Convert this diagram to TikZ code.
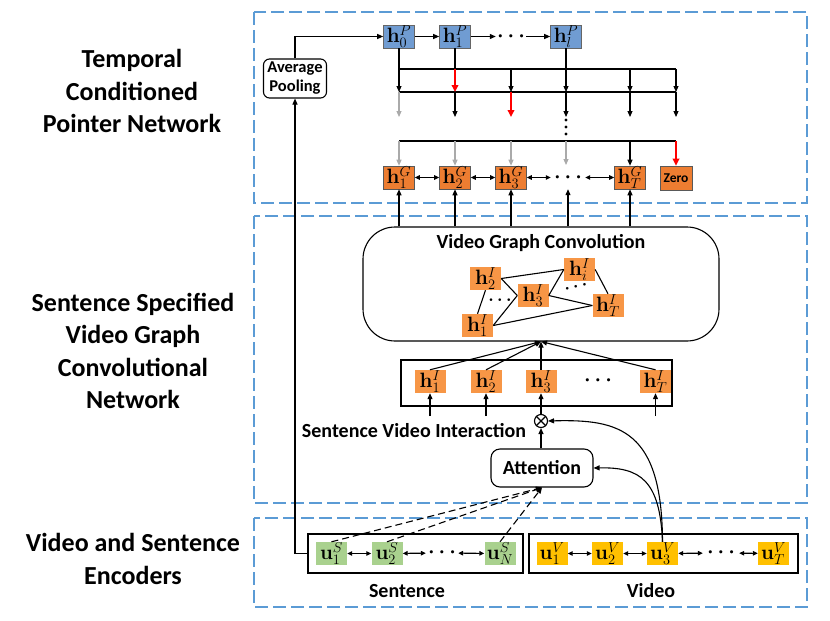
\documentclass[tikz,border=0pt]{standalone}
\usepackage[no-math]{fontspec}
\setmainfont{Carlito}
\usetikzlibrary{arrows.meta}
\definecolor{grpblue}{RGB}{91,155,213}
\definecolor{pblue}{RGB}{112,156,210}
\definecolor{gorange}{RGB}{237,125,49}
\definecolor{iorange}{RGB}{247,150,70}
\definecolor{sgreen}{RGB}{169,209,142}
\definecolor{vgold}{RGB}{255,192,0}
\definecolor{arrgray}{RGB}{170,170,170}
\begin{document}
\begin{tikzpicture}[x=1pt,y=-1pt,
  every node/.style={inner sep=0pt},
  grp/.style={draw=grpblue, line width=1.4pt, dash pattern=on 13pt off 5pt},
  mnode/.style={minimum width=31pt, minimum height=23pt, font=\fontsize{21}{23}\selectfont},
  pnode/.style={mnode, fill=pblue, draw=black!60, line width=0.6pt},
  gnode/.style={mnode, fill=gorange, draw=black!65, line width=0.6pt},
  inode/.style={mnode, fill=iorange},
  snode/.style={mnode, fill=sgreen},
  vnode/.style={mnode, fill=vgold},
  dotnode/.style={minimum height=23pt, font=\fontsize{20}{20}\selectfont\boldmath},
  gdots/.style={font=\fontsize{19}{19}\selectfont\boldmath},
  ln/.style={line width=1.1pt},
  arr/.style={ln, -{Triangle[length=6pt,width=5pt]}},
  darr/.style={ln, {Triangle[length=5pt,width=4.5pt]}-{Triangle[length=5pt,width=4.5pt]}},
  redarr/.style={line width=2pt, red, -{Triangle[length=7pt,width=6.5pt]}},
  grayarr/.style={arr, arrgray},
  dasharr/.style={arr, dash pattern=on 7pt off 4pt},
  lbl/.style={font=\fontsize{26}{32.5}\selectfont\bfseries, align=center},
  mid/.style={font=\fontsize{20}{22}\selectfont\bfseries, align=center},
  boxline/.style={draw, ln},
]
\useasboundingbox (0,0) rectangle (830,621);

% group frames
\draw[grp] (254,12) rectangle (807,203);
\draw[grp] (254,216) rectangle (807,503);
\draw[grp] (254,518) rectangle (807,607);

% left labels
\node[lbl] (t1) at (132,91) {Temporal\\Conditioned\\Pointer Network};
\node[lbl] (t2) at (133,351) {Sentence Specified\\Video Graph\\Convolutional\\Network};
\node[lbl] (t3) at (133,559) {Video and Sentence\\Encoders};

% ---------- pointer network ----------
\node[pnode] (p0) at (399,36.5) {$\mathbf{h}_0^P$};
\node[pnode] (p1) at (455,36.5) {$\mathbf{h}_1^P$};
\node[dotnode, minimum width=30pt] (pd) at (511,36.5) {$\cdots$};
\node[pnode] (pl) at (566,36.5) {$\mathbf{h}_l^P$};
\draw[arr] (p0) -- (p1);
\draw[arr] (p1) -- (pd);
\draw[arr] (pd) -- (pl);

\node[boxline, rounded corners=6pt, minimum width=63pt, minimum height=39pt,
      font=\fontsize{16.5}{19}\selectfont\bfseries, align=center] (ap) at (295,78.5) {Average\\Pooling};
\draw[arr] (ap.north) |- (p0.west);

% bus coordinates
\foreach \i/\x in {1/399,2/455,3/511,4/566,5/630,6/676}{
  \coordinate (A\i) at (\x,69);
  \coordinate (B\i) at (\x,92);
  \coordinate (D\i) at (\x,117);
  \coordinate (C\i) at (\x,141);
}
\draw[ln] (A1) -- (A6);
\draw[ln] (B1) -- (B6);
\draw[ln] (C1) -- (C6);
\draw[arr] (p0.south) -- (B1);
\draw[ln] (p1.south) -- (A2);
\draw[ln] (pl.south) -- (A4);
\draw[redarr] (A2) -- (B2);
\draw[arr] (A3) -- (B3);
\draw[arr] (A4) -- (B4);
\draw[arr] (A5) -- (B5);
\draw[arr] (A6) -- (B6);
\draw[grayarr] (B1) -- (D1);
\draw[arr] (B2) -- (D2);
\draw[redarr] (B3) -- (D3);
\draw[arr] (B4) -- (D4);
\draw[arr] (B5) -- (D5);
\draw[arr] (B6) -- (D6);
\foreach \y in {120,127,134} \fill (566,\y) circle (1.6pt);

% h^G row
\node[gnode] (g1) at (399,177.5) {$\mathbf{h}_1^G$};
\node[gnode] (g2) at (455,177.5) {$\mathbf{h}_2^G$};
\node[gnode] (g3) at (511,177.5) {$\mathbf{h}_3^G$};
\node[dotnode, minimum width=34pt] (gd) at (568,177.5) {$\cdots$};
\node[gnode] (gT) at (630,177.5) {$\mathbf{h}_T^G$};
\node[gnode, minimum width=32pt, minimum height=24pt, font=\fontsize{13.5}{15}\selectfont\bfseries] (zero) at (676,178) {Zero};
\draw[grayarr] (C1) -- (g1.north);
\draw[grayarr] (C2) -- (g2.north);
\draw[grayarr] (C3) -- (g3.north);
\draw[grayarr] (C4) -- (566,165);
\draw[arr] (C5) -- (gT.north);
\draw[redarr] (C6) -- (zero.north);
\draw[darr] (g1) -- (g2);
\draw[darr] (g2) -- (g3);
\draw[darr] (g3) -- (gd);
\draw[darr] (gd) -- (gT);

% ---------- video graph convolution ----------
\node[boxline, rounded corners=32pt, minimum width=356pt, minimum height=114pt] (vgc) at (541,284) {};
\node[mid] (vgct) at (541,243) {Video Graph Convolution};
\draw[arr] (g1 |- vgc.north) -- (g1.south);
\draw[arr] (g2 |- vgc.north) -- (g2.south);
\draw[arr] (g3 |- vgc.north) -- (g3.south);
\draw[arr] (gd |- vgc.north) -- (gd.south);
\draw[arr] (gT |- vgc.north) -- (gT.south);

\node[inode] (gi2) at (485.5,278.5) {$\mathbf{h}_2^I$};
\node[inode] (gi1) at (477.5,325.5) {$\mathbf{h}_1^I$};
\node[inode] (gi3) at (533,295.5) {$\mathbf{h}_3^I$};
\node[inode] (gii) at (579.5,269.5) {$\mathbf{h}_i^I$};
\node[inode] (giT) at (608,305.5) {$\mathbf{h}_T^I$};
\draw[ln] (gi2.south) -- (gi1.north);
\draw[ln] (gi2.east) -- (gi3.west);
\draw[ln] (gi1.east) -- (gi3.west);
\draw[ln] (gi2.east) -- (gii.west);
\draw[ln] (gi3.east) -- (gii.west);
\draw[ln] (gi3.east) -- (giT.west);
\draw[ln] (gi1.east) -- (giT.west);
\draw[ln] (gii.east) -- (giT.north);
\node[gdots] (gdot1) at (500,300) {$\cdots$};
\node[gdots, rotate=10] (gdot2) at (576,287) {$\cdots$};

% ---------- interaction row ----------
\node[boxline, minimum width=271pt, minimum height=46pt] (rowbox) at (536.5,383) {};
\node[inode] (ri1) at (430,381.5) {$\mathbf{h}_1^I$};
\node[inode] (ri2) at (486,381.5) {$\mathbf{h}_2^I$};
\node[inode] (ri3) at (541,381.5) {$\mathbf{h}_3^I$};
\node[dotnode] (rid) at (598,381) {$\cdots$};
\node[inode] (riT) at (655.5,381.5) {$\mathbf{h}_T^I$};
\draw[arr] (ri1.north) -- (vgc.south);
\draw[arr] (ri2.north) -- (vgc.south);
\draw[arr] (ri3.north) -- (vgc.south);
\draw[arr] (riT.north) -- (vgc.south);
\coordinate (u1) at (430,416);
\coordinate (u2) at (486,416);
\coordinate (uT) at (655.5,416);
\draw[arr] (u1) -- (ri1.south);
\draw[arr] (u2) -- (ri2.south);
\draw[arr] (uT) -- (riT.south);

\node[draw, ln, circle, minimum size=13pt] (ot) at (541,421) {};
\draw[ln] (ot.north west) -- (ot.south east) (ot.north east) -- (ot.south west);
\draw[arr] (ot.north) -- (ri3.south);
\node[mid] (svi) at (414,431) {Sentence Video Interaction};

\node[boxline, rounded corners=9pt, minimum width=102pt, minimum height=38pt, font=\fontsize{20}{22}\selectfont\bfseries] (att) at (542,468) {Attention};
\draw[arr] (att.north -| ot) -- (ot.south);

% ---------- encoders ----------
\node[boxline, minimum width=215pt, minimum height=39pt] (sentbox) at (415.5,553.5) {};
\node[boxline, minimum width=269pt, minimum height=39pt] (vidbox) at (663.5,553.5) {};
\node[snode] (s1) at (331.5,553.5) {$\mathbf{u}_1^S$};
\node[snode] (s2) at (387,553.5) {$\mathbf{u}_2^S$};
\node[dotnode, minimum width=32pt] (sd) at (442,553) {$\cdots$};
\node[snode] (sN) at (500,553.5) {$\mathbf{u}_N^S$};
\node[vnode] (v1) at (552,553.5) {$\mathbf{u}_1^V$};
\node[vnode] (v2) at (607.5,553.5) {$\mathbf{u}_2^V$};
\node[vnode] (v3) at (662.5,553.5) {$\mathbf{u}_3^V$};
\node[dotnode, minimum width=36pt] (vd) at (721,553) {$\cdots$};
\node[vnode] (vT) at (773.5,553.5) {$\mathbf{u}_T^V$};
\draw[darr] (s1) -- (s2);
\draw[darr] (s2) -- (sd);
\draw[darr] (sd) -- (sN);
\draw[darr] (v1) -- (v2);
\draw[darr] (v2) -- (v3);
\draw[darr] (v3) -- (vd);
\draw[darr] (vd) -- (vT);
\node[mid] (sentl) at (407,591) {Sentence};
\node[mid] (vidl) at (651,591) {Video};

\draw[arr] (sentbox.west) -| (ap.south);
\draw[dasharr] (s1.north) -- (att.south);
\draw[dasharr] (s2.north) -- (att.south);
\draw[dasharr] (sN.north) -- (att.south);
\draw[arr] (v3.north) .. controls (662,430) and (620,419) .. (ot.east);
\draw[arr] (v3.north) .. controls (660,480) and (640,467) .. (att.east);
\end{tikzpicture}
\end{document}
